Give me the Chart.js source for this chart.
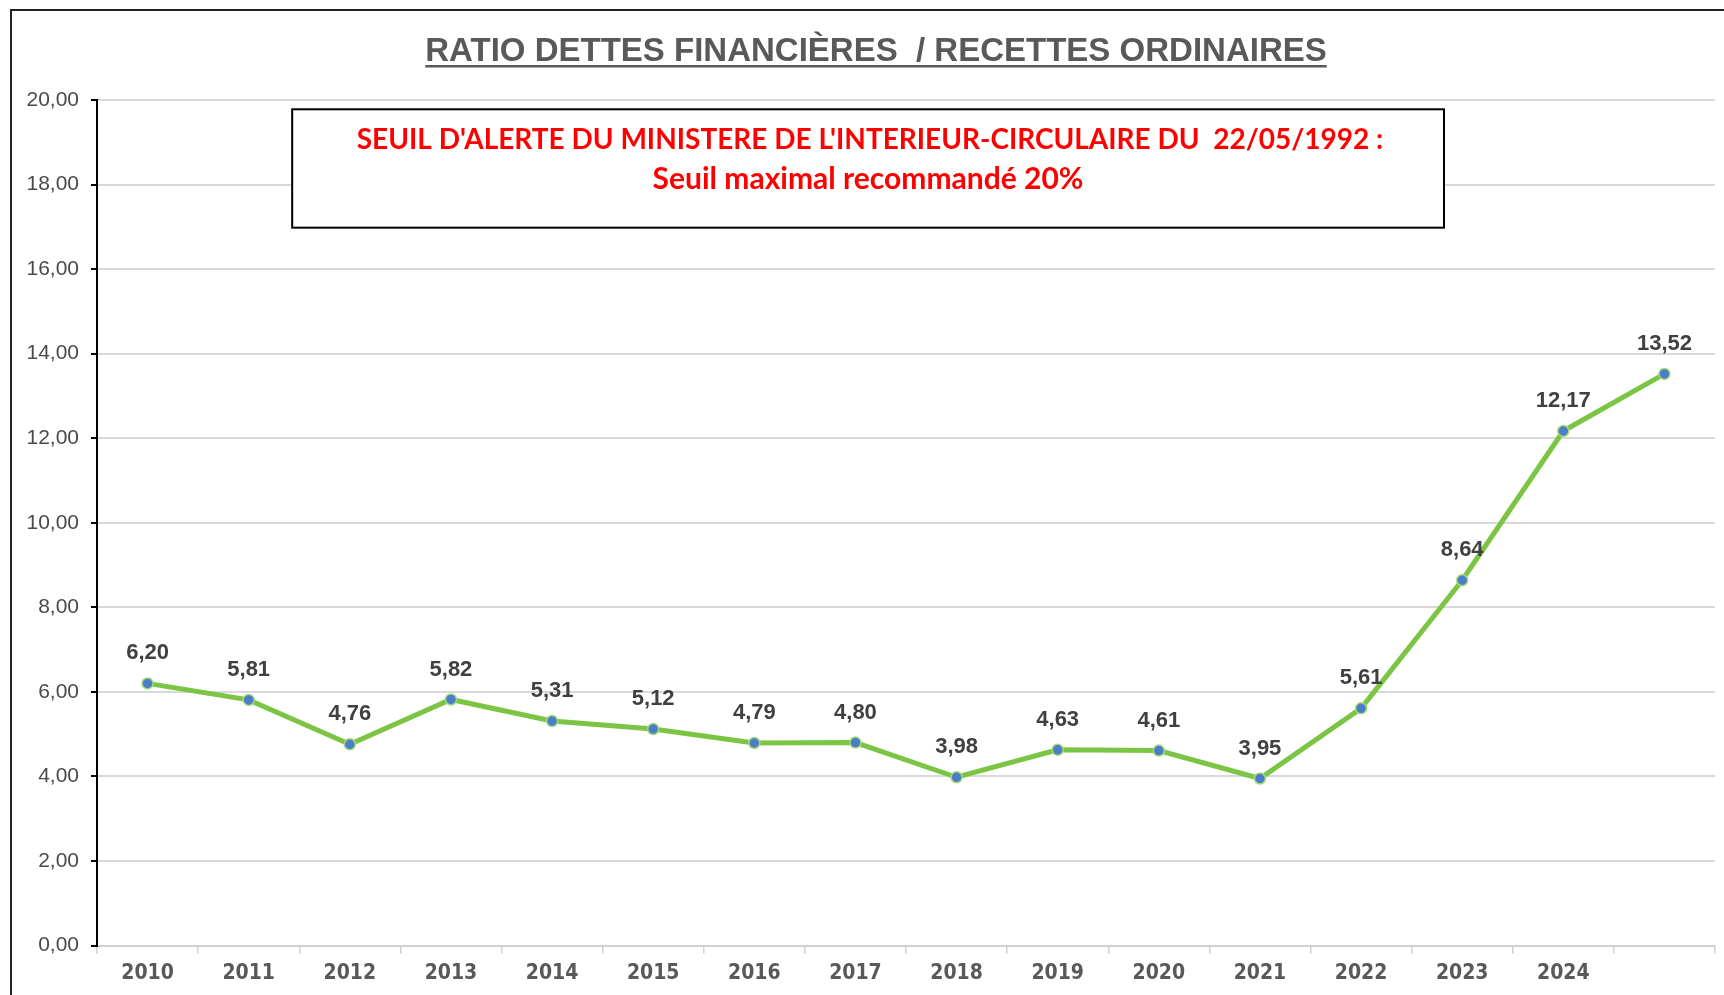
<!DOCTYPE html>
<html lang="fr">
<head>
<meta charset="utf-8">
<title>Ratio dettes financières / recettes ordinaires</title>
<script src="https://cdn.jsdelivr.net/npm/chart.js@4.4.1/dist/chart.umd.min.js"></script>
<style>
    html, body { margin: 0; padding: 0; background: #ffffff; overflow: hidden; }
    #wrap { position: relative; width: 1724px; height: 995px; }
</style>
</head>
<body>
<div id="wrap"><canvas id="ratioChart" width="1724" height="995"></canvas></div>
<script>
// Data
const years = ['2010', '2011', '2012', '2013', '2014', '2015', '2016', '2017', '2018', '2019', '2020', '2021', '2022', '2023', '2024', ''];
const ratios = [6.20, 5.81, 4.76, 5.82, 5.31, 5.12, 4.79, 4.80, 3.98, 4.63, 4.61, 3.95, 5.61, 8.64, 12.17, 13.52];
const yTicks = [0, 2, 4, 6, 8, 10, 12, 14, 16, 18, 20];

const chartTitle = 'RATIO DETTES FINANCIÈRES  / RECETTES ORDINAIRES';
const alertLines = [
    "SEUIL D'ALERTE DU MINISTERE DE L'INTERIEUR-CIRCULAIRE DU  22/05/1992 :",
    'Seuil maximal recommandé 20%'
];

const fmt = (v) => v.toFixed(2).replace('.', ',');
const narrow = '"Liberation Sans Narrow", "Arial Narrow", "DejaVu Sans Condensed", "Liberation Sans", sans-serif';

// Frame, title, alert box and value labels
const decorations = {
    id: 'decorations',
    beforeDraw(chart) {
        const ctx = chart.ctx;
        ctx.save();
        ctx.strokeStyle = '#222222';
        ctx.lineWidth = 2;
        ctx.strokeRect(11, 10, 1760, 1040);
        ctx.restore();
    },
    afterDraw(chart) {
        const ctx = chart.ctx;
        const x = chart.scales.x;
        const y = chart.scales.y;

        // title
        ctx.save();
        ctx.font = 'bold 33px "Liberation Sans", Arial, sans-serif';
        ctx.fillStyle = '#595959';
        ctx.textAlign = 'center';
        ctx.textBaseline = 'alphabetic';
        const tx = 876;
        ctx.fillText(chartTitle, tx, 61);
        const tw = ctx.measureText(chartTitle).width;
        ctx.fillRect(tx - tw / 2, 65, tw, 2.5);
        ctx.restore();

        // alert box
        const bx1 = x.getPixelForValue(1.43);
        const bx2 = x.getPixelForValue(12.82);
        const by1 = y.getPixelForValue(19.78);
        const by2 = y.getPixelForValue(16.98);
        ctx.save();
        ctx.fillStyle = '#ffffff';
        ctx.fillRect(bx1, by1, bx2 - bx1, by2 - by1);
        ctx.strokeStyle = '#000000';
        ctx.lineWidth = 2;
        ctx.strokeRect(bx1, by1, bx2 - bx1, by2 - by1);
        ctx.fillStyle = '#ff0000';
        ctx.textAlign = 'center';
        ctx.textBaseline = 'middle';
        ctx.font = 'bold 28px Lato, "Open Sans", sans-serif';
        ctx.fillText(alertLines[0], 870, 140);
        ctx.font = 'bold 30px Lato, "Open Sans", sans-serif';
        ctx.fillText(alertLines[1], 868, 179);
        ctx.restore();

        // value labels
        const meta = chart.getDatasetMeta(0);
        ctx.save();
        ctx.font = 'bold 22px "Liberation Sans", Arial, sans-serif';
        ctx.fillStyle = '#404040';
        ctx.textAlign = 'center';
        ctx.textBaseline = 'middle';
        meta.data.forEach((pt, i) => {
            ctx.fillText(fmt(ratios[i]), pt.x, pt.y - 30);
        });
        ctx.restore();
    }
};

new Chart(document.getElementById('ratioChart'), {
    type: 'line',
    data: {
        labels: years,
        datasets: [{
            data: ratios,
            borderColor: '#7cc443',
            borderWidth: 5,
            pointRadius: 5.5,
            pointBackgroundColor: '#4a7ec8',
            pointBorderColor: '#a6d97c',
            pointBorderWidth: 1.5,
            tension: 0,
            clip: false
        }]
    },
    options: {
        responsive: false,
        animation: false,
        layout: { padding: { left: 0, right: 9, top: 100, bottom: 0 } },
        plugins: {
            legend: { display: false },
            tooltip: { enabled: false },
            title: { display: false }
        },
        scales: {
            x: {
                offset: true,
                grid: {
                    offset: true,
                    drawOnChartArea: false,
                    drawTicks: true,
                    tickLength: 8,
                    color: '#d0d0d0',
                    lineWidth: 1.5
                },
                border: { display: true, color: '#d0d0d0', width: 2 },
                ticks: {
                    color: '#595959',
                    font: { family: narrow, size: 21, weight: 'bold' },
                    padding: 7,
                    maxRotation: 0,
                    autoSkip: false
                },
                afterFit(scale) { scale.height = 49.5; }
            },
            y: {
                min: 0,
                max: 20,
                afterBuildTicks(scale) { scale.ticks = yTicks.map(v => ({ value: v })); },
                grid: {
                    color: '#d9d9d9',
                    lineWidth: 2,
                    tickLength: 6,
                    tickColor: '#000000',
                    tickWidth: 2
                },
                border: { display: true, color: '#000000', width: 2 },
                ticks: {
                    color: '#4a4a4a',
                    font: { family: '"Liberation Sans", Arial, sans-serif', size: 21 },
                    padding: 12,
                    callback: (v) => fmt(v)
                },
                afterFit(scale) { scale.width = 97; }
            }
        }
    },
    plugins: [decorations]
});
</script>
</body>
</html>
